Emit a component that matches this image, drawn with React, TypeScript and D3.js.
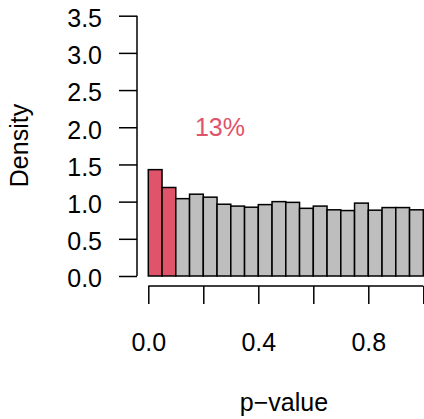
import React, { useEffect, useRef } from "react";
import * as d3 from "d3";

// histogram of p-values, 20 bins of width 0.05
const breaks = [0, 0.05, 0.1, 0.15, 0.2, 0.25, 0.3, 0.35, 0.4, 0.45, 0.5, 0.55, 0.6, 0.65, 0.7, 0.75, 0.8, 0.85, 0.9, 0.95, 1.0];
const density = [1.43, 1.19, 1.04, 1.10, 1.06, 0.965, 0.94, 0.925, 0.96, 1.0, 0.99, 0.91, 0.94, 0.89, 0.88, 0.98, 0.885, 0.92, 0.92, 0.89];
const highlighted = [true, true, false, false, false, false, false, false, false, false, false, false, false, false, false, false, false, false, false, false];
const yTicks = [0, 0.5, 1.0, 1.5, 2.0, 2.5, 3.0, 3.5];
const xTicks = [0, 0.2, 0.4, 0.6, 0.8, 1.0];
const xTickLabels = [0, 0.4, 0.8];
const annotation = "13%";

const W = 424;
const H = 419;
const RED = "#DF536B";
const GREY = "#BEBEBE";
const FONT = "'Liberation Sans', Arial, Helvetica, sans-serif";

const App = () => {
  const ref = useRef<SVGSVGElement | null>(null);

  useEffect(() => {
    const svg = d3.select(ref.current);
    svg.selectAll("*").remove();

    const x = d3.scaleLinear().domain([0, 1]).range([148.3, 423.3]);
    const y = d3.scaleLinear().domain([0, 3.5]).range([276, 15.7]);

    const bins = density.map((d, i) => ({ x0: breaks[i], x1: breaks[i + 1], d, hi: highlighted[i] }));

    // bars
    svg.append("g")
      .selectAll("rect")
      .data(bins)
      .enter()
      .append("rect")
      .attr("x", b => x(b.x0))
      .attr("y", b => y(b.d))
      .attr("width", b => x(b.x1) - x(b.x0))
      .attr("height", b => y(0) - y(b.d))
      .attr("fill", b => (b.hi ? RED : GREY))
      .attr("stroke", "#000")
      .attr("stroke-width", 1.5);

    // y axis
    const yAxis = d3.axisLeft(y)
      .tickValues(yTicks)
      .tickSize(18)
      .tickPadding(17)
      .tickFormat(d3.format(".1f"));
    const gy = svg.append("g")
      .attr("transform", "translate(137,0)")
      .call(yAxis);
    gy.select(".domain").attr("d", `M0,${y(0)}V${y(3.5)}`).attr("stroke-width", 1.5);
    gy.selectAll(".tick line").attr("stroke-width", 1.5);
    gy.selectAll(".tick text")
      .attr("font-family", FONT)
      .attr("font-size", 25)
      .attr("fill", "#000")
      .attr("dy", "0.43em");

    // x axis
    const xAxis = d3.axisBottom(x)
      .tickValues(xTicks)
      .tickSize(18)
      .tickPadding(29)
      .tickFormat(d => (xTickLabels.includes(d as number) ? d3.format(".1f")(d as number) : ""));
    const gx = svg.append("g")
      .attr("transform", "translate(0,286)")
      .call(xAxis);
    gx.select(".domain").attr("d", `M${x(0)},0H${x(1)}`).attr("stroke-width", 1.5);
    gx.selectAll(".tick line").attr("stroke-width", 1.5);
    gx.selectAll(".tick text")
      .attr("font-family", FONT)
      .attr("font-size", 25)
      .attr("fill", "#000");

    // labels
    svg.append("text")
      .attr("x", 284)
      .attr("y", 411)
      .attr("text-anchor", "middle")
      .attr("font-family", FONT)
      .attr("font-size", 25)
      .text("p\u2212value");

    svg.append("text")
      .attr("transform", `translate(28,145.5) rotate(-90)`)
      .attr("text-anchor", "middle")
      .attr("font-family", FONT)
      .attr("font-size", 25)
      .text("Density");

    svg.append("text")
      .attr("x", 220)
      .attr("y", 135.5)
      .attr("text-anchor", "middle")
      .attr("font-family", FONT)
      .attr("font-size", 25)
      .attr("fill", RED)
      .text(annotation);
  }, []);

  return (
    <svg
      ref={ref}
      width={W}
      height={H}
      style={{ position: "absolute", left: 0, top: 0, background: "#fff" }}
    />
  );
};

export default App;
